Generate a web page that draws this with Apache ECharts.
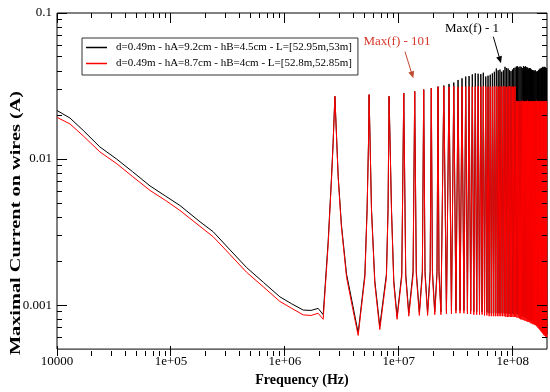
<!DOCTYPE html>
<html>
<head>
<meta charset="utf-8">
<script src="https://cdn.jsdelivr.net/npm/echarts/dist/echarts.min.js"></script>
<style>
  html, body { margin: 0; padding: 0; background: #fff; }
  #chart { width: 550px; height: 392px; }
</style>
</head>
<body>
<div id="chart"></div>
<script>
// ---------- Data ----------
const seriesNames = [
  'd=0.49m - hA=9.2cm - hB=4.5cm - L=[52.95m,53m]',
  'd=0.49m - hA=8.7cm - hB=4cm - L=[52.8m,52.85m]'
];

// Low-frequency part and first resonance lobes (frequency in MHz)
const lowFreqMHz = [0.01, 0.013, 0.017, 0.0238, 0.0334, 0.046, 0.0655, 0.09, 0.12, 0.18, 0.235, 0.33, 0.461, 0.65, 0.904, 1.15, 1.45, 1.7, 1.96, 2.17,
  2.40, 2.57, 2.65, 2.75, 2.94, 3.14, 3.48, 3.97, 4.40,
  5.04, 5.27, 5.42, 5.49, 5.76, 6.16, 6.81,
  7.79, 8.05, 8.22, 8.63, 9.04, 9.66,
  10.62, 11.06, 11.51, 12.24,
  13.35, 13.8, 14.25, 15.15,
  16.1, 16.55, 17.0, 17.9,
  18.85, 19.3, 19.75, 20.7,
  21.65, 22.1, 22.55, 23.45];
const lowBlack = [0.0215, 0.0191, 0.0157, 0.0121, 0.0100, 0.0082, 0.00655, 0.00557, 0.00481, 0.00372, 0.00318, 0.00239, 0.00181, 0.00143, 0.00114, 0.00102, 0.000925, 0.00092, 0.00095, 0.00086,
  0.00273, 0.00764, 0.0128, 0.0269, 0.0076, 0.00353, 0.00163, 0.000975, 0.000645,
  0.00163, 0.00457, 0.0128, 0.0276, 0.00457, 0.00147, 0.000716,
  0.00163, 0.00457, 0.0269, 0.00457, 0.00147, 0.000836,
  0.00163, 0.0283, 0.00163, 0.00088,
  0.0017, 0.0291, 0.0017, 0.00089,
  0.0017, 0.0299, 0.0017, 0.00089,
  0.0017, 0.0306, 0.0017, 0.0009,
  0.0017, 0.0314, 0.0017, 0.0009];
const lowRed = [0.0193, 0.0174, 0.0144, 0.0112, 0.0093, 0.0076, 0.0061, 0.0052, 0.00445, 0.00346, 0.00294, 0.00222, 0.00168, 0.00133, 0.00106, 0.00095, 0.000857, 0.00085, 0.00088, 0.00080,
  0.0026, 0.0074, 0.0125, 0.0269, 0.0074, 0.0034, 0.00155, 0.00092, 0.00062,
  0.00155, 0.0044, 0.0125, 0.0276, 0.0044, 0.0014, 0.00068,
  0.00155, 0.0044, 0.0269, 0.0044, 0.0014, 0.0008,
  0.00155, 0.0283, 0.00155, 0.00084,
  0.0016, 0.0291, 0.0016, 0.00085,
  0.0016, 0.0299, 0.0016, 0.00085,
  0.0016, 0.0306, 0.0016, 0.00086,
  0.0016, 0.0312, 0.0016, 0.00086];

// Dense resonance region: peaks and troughs (MHz)
const peakMHz = [24.85, 27.6, 30.4, 33.15, 35.9, 38.7, 41.4, 44.2, 46.95, 49.7, 52.5, 55.2, 58.0, 60.75, 63.5, 66.3, 69.0, 71.8, 74.55, 77.3, 80.1, 82.8, 85.6, 88.35, 91.1, 93.9, 96.6, 99.4, 102.1, 104.9, 107.7, 110.4, 113.2, 115.9, 118.7, 121.4, 124.2, 126.9, 129.7, 132.5, 135.2, 138.0, 140.7, 143.5, 146.2, 149.0, 151.8, 154.5, 157.3, 160.0, 162.8, 165.5, 168.3, 171.1, 173.8, 176.6, 179.3, 182.1, 184.8, 187.6, 190.4, 193.1, 195.9, 198.6];
const troughMHz = [26.2, 29.0, 31.75, 34.5, 37.3, 40.05, 42.8, 45.55, 48.3, 51.1, 53.85, 56.6, 59.35, 62.1, 64.9, 67.65, 70.4, 73.15, 75.9, 78.7, 81.45, 84.2, 86.95, 89.7, 92.5, 95.25, 98.0, 100.75, 103.5, 106.3, 109.0, 111.8, 114.55, 117.3, 120.05, 122.8, 125.55, 128.3, 131.1, 133.85, 136.6, 139.35, 142.1, 144.85, 147.6, 150.4, 153.15, 155.9, 158.65, 161.4, 164.15, 166.9, 169.7, 172.45, 175.2, 177.95, 180.7, 183.45, 186.2, 188.95, 191.7, 194.5, 197.2, 200.0];
const peakBlack = [0.0319, 0.0327, 0.0334, 0.0348, 0.0357, 0.0367, 0.0370, 0.0380, 0.0386, 0.0384, 0.0382, 0.0390,
  0.0367, 0.0372, 0.0378, 0.0386, 0.0396, 0.0417, 0.0405, 0.0410, 0.0396, 0.0405,
  0.0428, 0.0420, 0.0417, 0.0405, 0.0400, 0.0410, 0.0420, 0.0423, 0.0430, 0.0432,
  0.0425, 0.0430, 0.0428, 0.0420, 0.0432, 0.0428, 0.0432, 0.0425, 0.0423, 0.0417,
  0.0420, 0.0417, 0.0410, 0.0407, 0.0405, 0.0400, 0.0407, 0.0398, 0.0396, 0.0400,
  0.0405, 0.0410, 0.0417, 0.0415, 0.0420, 0.0425, 0.0428, 0.0423, 0.0428, 0.0425, 0.0420, 0.0418];
const troughBlack = [0.00091, 0.00091, 0.00092, 0.00092, 0.00092, 0.00091, 0.00091, 0.0009, 0.0009, 0.0009, 0.0009, 0.00089,
  0.00089, 0.00088, 0.00088, 0.00088, 0.00088, 0.00088, 0.00088, 0.00088, 0.00088, 0.00088,
  0.00088, 0.00087, 0.00087, 0.00087, 0.00087, 0.00087, 0.00087, 0.00087, 0.00087, 0.00086,
  0.00086, 0.00085, 0.00084, 0.00084, 0.00083, 0.00082, 0.00082, 0.00081, 0.0008, 0.0008,
  0.00079, 0.00079, 0.00078, 0.00078, 0.00077, 0.00077, 0.00076, 0.00075, 0.00074, 0.00073,
  0.00072, 0.00071, 0.0007, 0.00069, 0.00068, 0.00067, 0.00066, 0.00065, 0.00064, 0.00064, 0.00063, 0.00063];
const peakRed = [0.0314, 0.0312, 0.0315, 0.0311, 0.0314, 0.0313, 0.0315, 0.0312, 0.0314, 0.0316, 0.0313, 0.0315,
  0.0314, 0.0312, 0.0315, 0.0313, 0.0314, 0.0316, 0.0312, 0.0315, 0.0313, 0.0314, 0.0316, 0.0312, 0.0314, 0.0315, 0.0313, 0.0314, 0.0312, 0.0315,
  0.0249, 0.0250, 0.0248, 0.0250, 0.0249, 0.0251, 0.0249, 0.0248, 0.0250, 0.0249, 0.0251, 0.0249, 0.0248, 0.0250, 0.0249, 0.0250, 0.0248,
  0.0249, 0.0250, 0.0249, 0.0251, 0.0249, 0.0248, 0.0250, 0.0249, 0.0250, 0.0248, 0.0249, 0.0250, 0.0249, 0.0248, 0.0250, 0.0249, 0.0249];
const troughRed = [0.00087, 0.00087, 0.00088, 0.00088, 0.00088, 0.00087, 0.00087, 0.00086, 0.00086, 0.00086, 0.00086, 0.00085,
  0.00085, 0.00084, 0.00084, 0.00084, 0.00084, 0.00084, 0.00084, 0.00084, 0.00084, 0.00084,
  0.00083, 0.00083, 0.00083, 0.00083, 0.00083, 0.00083, 0.00083, 0.00083, 0.00082, 0.00082,
  0.00081, 0.0008, 0.0008, 0.00079, 0.00079, 0.00078, 0.00078, 0.00077, 0.00077, 0.000765,
  0.00076, 0.00075, 0.00075, 0.00074, 0.00074, 0.000735, 0.00073, 0.00072, 0.00071, 0.0007,
  0.00069, 0.00068, 0.00067, 0.00066, 0.00065, 0.00064, 0.00063, 0.00062, 0.00062, 0.00061, 0.00061, 0.0006];

// Axis ticks
const xTickValues = [1e4, 1e5, 1e6, 1e7, 1e8];
const xTickLabels = ['10000', '1e+05', '1e+06', '1e+07', '1e+08'];
const yTickValues = [0.001, 0.01, 0.1];
const yTickLabels = ['0.001', '0.01', '0.1'];
const xMin = 1e4, xMax = 2e8, yMin = 0.0005, yMax = 0.1;

// ---------- Build ----------
(function () {
function buildSeries(low, peaks, troughs) {
  const pts = lowFreqMHz.map((f, i) => [f * 1e6, low[i]]);
  peakMHz.forEach((f, i) => {
    pts.push([f * 1e6, peaks[i]]);
    pts.push([troughMHz[i] * 1e6, troughs[i]]);
  });
  return pts;
}
const L = Math.log10;
function minorTickValues(lo, hi) {
  const out = [];
  for (let e = Math.floor(L(lo)); e <= Math.ceil(L(hi)); e++) {
    for (let k = 2; k <= 9; k++) {
      const v = k * Math.pow(10, e);
      if (v > lo * 1.0001 && v < hi * 0.9999) out.push(v);
    }
  }
  return out;
}
const font = '"Liberation Serif", "Times New Roman", serif';
const lxMin = L(xMin), lxMax = L(xMax), lyMin = L(yMin), lyMax = L(yMax);
const GRID = { left: 57, top: 13, width: 490, height: 343 };

function labelAxis(pos, lo, hi, values, labels, isX) {
  const ticks = values.map(L);
  return {
    type: 'value', position: pos, min: lo, max: hi,
    axisLine: { show: false, onZero: false },
    axisTick: { show: false },
    splitLine: { show: false },
    silent: true,
    axisLabel: {
      show: true, customValues: ticks, color: '#000', fontFamily: font, fontSize: 13,
      margin: isX ? 6 : 5,
      formatter: v => {
        const idx = ticks.findIndex(t => Math.abs(t - v) < 1e-6);
        return idx >= 0 ? labels[idx] : '';
      }
    }
  };
}

const baseGraphic = [
  { type: 'text', x: 16, y: 223, rotation: Math.PI / 2, scaleX: 1.45,
    style: { text: 'Maximal Current on wires (A)', font: 'bold 14px ' + font, fill: '#000', align: 'center', verticalAlign: 'middle' } },
  { type: 'text', x: 472, y: 28.5,
    style: { text: 'Max(f) - 1', font: '13px ' + font, fill: '#000', align: 'center', verticalAlign: 'middle' } },
  { type: 'line', shape: { x1: 493.3, y1: 36.7, x2: 499.5, y2: 58 }, style: { stroke: '#000', lineWidth: 1 } },
  { type: 'polygon', shape: { points: [[501, 63.3], [501.9, 55.8], [496.2, 57.4]] }, style: { fill: '#000' } },
  { type: 'text', x: 397, y: 41.7,
    style: { text: 'Max(f) - 101', font: '13px ' + font, fill: '#d8392b', align: 'center', verticalAlign: 'middle' } },
  { type: 'line', shape: { x1: 405, y1: 51.7, x2: 411.6, y2: 73 }, style: { stroke: '#c04a30', lineWidth: 1 } },
  { type: 'polygon', shape: { points: [[413.3, 78.3], [414.1, 70.7], [408.4, 72.5]] }, style: { fill: '#c04a30' } }
];

const option = {
  animation: false,
  backgroundColor: '#fff',
  grid: Object.assign({ show: true, borderColor: '#000', borderWidth: 1, backgroundColor: 'transparent' }, GRID),
  legend: {
    orient: 'vertical', left: 82, top: 38,
    data: seriesNames,
    icon: 'rect', itemWidth: 21, itemHeight: 1.5, itemGap: 3,
    padding: [3, 6, 5, 4],
    borderColor: '#333', borderWidth: 1, backgroundColor: '#fff',
    textStyle: { fontFamily: font, fontSize: 11, color: '#000', lineHeight: 13, padding: [0, 0, 0, 4] },
    selectedMode: false
  },
  xAxis: [
    { type: 'log', logBase: 10, min: xMin, max: xMax, show: false, position: 'bottom' },
    Object.assign(labelAxis('bottom', lxMin, lxMax, xTickValues, xTickLabels, true), {
      name: 'Frequency (Hz)', nameLocation: 'middle', nameGap: 21,
      nameTextStyle: { fontFamily: font, fontSize: 14, fontWeight: 'bold', color: '#000' }
    })
  ],
  yAxis: [
    { type: 'log', logBase: 10, min: yMin, max: yMax, show: false, position: 'left' },
    labelAxis('left', lyMin, lyMax, yTickValues, yTickLabels, false)
  ],
  series: [
    {
      name: seriesNames[0], type: 'line', xAxisIndex: 0, yAxisIndex: 0,
      data: buildSeries(lowBlack, peakBlack, troughBlack),
      showSymbol: false, symbol: 'none', color: '#000',
      lineStyle: { color: '#000', width: 1 }, z: 2
    },
    {
      name: seriesNames[1], type: 'line', xAxisIndex: 0, yAxisIndex: 0,
      data: buildSeries(lowRed, peakRed, troughRed),
      showSymbol: false, symbol: 'none', color: '#ff0000',
      lineStyle: { color: '#ff0000', width: 1 }, z: 3
    }
  ],
  graphic: baseGraphic
};

const chart = echarts.init(document.getElementById('chart'), null, { renderer: 'canvas' });
chart.setOption(option);

// Inward tick marks on all four sides, placed through the log axes' own mapping
const gTop = GRID.top, gBottom = GRID.top + GRID.height, gLeft = GRID.left, gRight = GRID.left + GRID.width;
const tickGraphic = [];
function addTick(x1, y1, x2, y2) {
  tickGraphic.push({ type: 'line', silent: true, z: 10,
    shape: { x1, y1, x2, y2 }, style: { stroke: '#000', lineWidth: 1 } });
}
function crisp(v) { return Math.round(v - 0.5) + 0.5; }
[[xTickValues, 10], [minorTickValues(xMin, xMax), 5]].forEach(([vals, len]) => {
  vals.forEach(v => {
    const x = crisp(chart.convertToPixel({ xAxisIndex: 0 }, v));
    addTick(x, gBottom, x, gBottom - len);
    addTick(x, gTop, x, gTop + len);
  });
});
[[yTickValues, 10], [minorTickValues(yMin, yMax), 5]].forEach(([vals, len]) => {
  vals.forEach(v => {
    const y = crisp(chart.convertToPixel({ yAxisIndex: 0 }, v));
    addTick(gLeft, y, gLeft + len, y);
    addTick(gRight, y, gRight - len, y);
  });
});
chart.setOption({ graphic: baseGraphic.concat(tickGraphic) });
})();
</script>
</body>
</html>
